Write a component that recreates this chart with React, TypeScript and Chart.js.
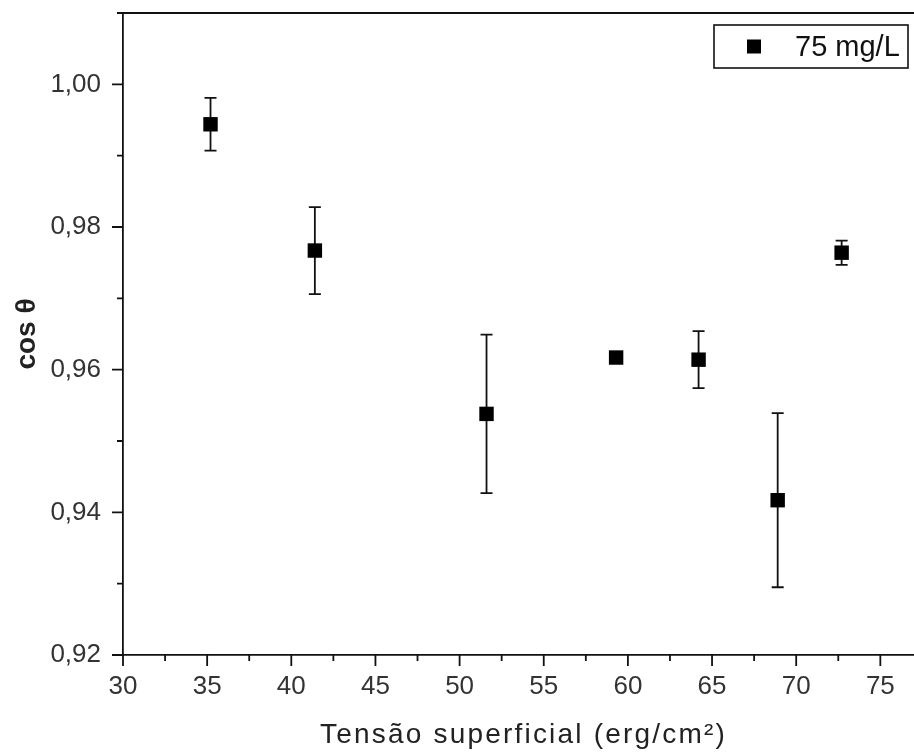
import React, { useEffect, useRef } from "react";
import { Chart, registerables } from "chart.js";

Chart.register(...registerables);

const seriesLabel = "75 mg/L";
const tension = [35.2, 41.4, 51.6, 59.3, 64.2, 68.9, 72.7];
const cosTheta = [0.9944, 0.9767, 0.9538, 0.9617, 0.9614, 0.9417, 0.9764];
const cosErr = [0.0037, 0.0061, 0.0111, 0.0002, 0.004, 0.0122, 0.0017];

const xTitle = "Tensão superficial (erg/cm²)";
const yTitle = "cos θ";

const FONT = "'Liberation Sans', Arial, sans-serif";

const errorBarPlugin = {
  id: "errorBars",
  beforeDatasetsDraw(chart: any) {
    const ctx = chart.ctx;
    const xs = chart.scales.x;
    const ys = chart.scales.y;
    ctx.save();
    ctx.strokeStyle = "#111";
    ctx.lineWidth = 1.8;
    for (let i = 0; i < tension.length; i++) {
      const px = xs.getPixelForValue(tension[i]);
      const top = ys.getPixelForValue(cosTheta[i] + cosErr[i]);
      const bot = ys.getPixelForValue(cosTheta[i] - cosErr[i]);
      ctx.beginPath();
      ctx.moveTo(px, top);
      ctx.lineTo(px, bot);
      ctx.moveTo(px - 6, top);
      ctx.lineTo(px + 6, top);
      ctx.moveTo(px - 6, bot);
      ctx.lineTo(px + 6, bot);
      ctx.stroke();
    }
    ctx.restore();
  },
};

const framePlugin = {
  id: "frame",
  afterDraw(chart: any) {
    const ctx = chart.ctx;
    const area = chart.chartArea;
    const xs = chart.scales.x;
    const ys = chart.scales.y;
    ctx.save();
    ctx.strokeStyle = "#111";
    ctx.lineWidth = 1.8;
    ctx.beginPath();
    // top frame line
    ctx.moveTo(area.left, area.top);
    ctx.lineTo(area.right, area.top);
    // x ticks
    xs.ticks.forEach((t: any, i: number) => {
      const p = xs.getPixelForTick(i);
      const major = Math.abs(t.value % 5) < 1e-6;
      ctx.moveTo(p, area.bottom);
      ctx.lineTo(p, area.bottom + (major ? 11 : 6));
    });
    ys.ticks.forEach((t: any, i: number) => {
      const p = ys.getPixelForTick(i);
      const major = Math.round(t.value * 100) % 2 === 0;
      ctx.moveTo(area.left, p);
      ctx.lineTo(area.left - (major ? 11 : 6), p);
    });
    ctx.stroke();

    // x axis title (Origin-style spaced lettering)
    ctx.font = `28px ${FONT}`;
    ctx.fillStyle = "#222";
    ctx.textAlign = "center";
    ctx.textBaseline = "middle";
    try {
      (ctx as any).letterSpacing = "2.2px";
    } catch (e) {}
    ctx.fillText(xTitle, (area.left + area.right) / 2 + 5, xs.bottom - 17);
    try {
      (ctx as any).letterSpacing = "0px";
    } catch (e) {}

    // legend
    const bw = 194;
    const bh = 43;
    const bx = area.right - 6 - bw;
    const by = area.top + 12;
    ctx.lineWidth = 1.6;
    ctx.strokeRect(bx, by, bw, bh);
    ctx.fillStyle = "#000";
    ctx.fillRect(bx + 40 - 7, by + bh / 2 - 7, 14, 14);
    ctx.font = `29px ${FONT}`;
    ctx.textBaseline = "middle";
    ctx.textAlign = "left";
    ctx.fillStyle = "#111";
    ctx.fillText(seriesLabel, bx + 81, by + bh / 2 + 1);
    ctx.restore();
  },
};

function zeroPad(scale: any) {
  scale.paddingTop = 0;
  scale.paddingBottom = 0;
  scale.paddingLeft = 0;
  scale.paddingRight = 0;
}

export default function App() {
  const ref = useRef<HTMLCanvasElement>(null);
  useEffect(() => {
    if (!ref.current) return;
    const chart = new Chart(ref.current, {
      type: "scatter",
      data: {
        datasets: [
          {
            label: seriesLabel,
            data: tension.map((x, i) => ({ x, y: cosTheta[i] })),
            pointStyle: "rect",
            pointRadius: 10.2,
            pointHoverRadius: 10.2,
            backgroundColor: "#000",
            borderColor: "#000",
            borderWidth: 0,
          },
        ],
      },
      options: {
        responsive: false,
        animation: false,
        layout: { autoPadding: false, padding: { top: 13, right: 0, left: 0, bottom: 0 } },
        plugins: {
          legend: { display: false },
          tooltip: { enabled: false },
        },
        scales: {
          x: {
            type: "linear",
            min: 30,
            max: 77,
            afterFit(scale: any) {
              scale.height = 97;
              zeroPad(scale);
            },
            ticks: {
              stepSize: 2.5,
              includeBounds: false,
              autoSkip: false,
              maxRotation: 0,
              padding: 16,
              color: "#333",
              font: { family: FONT, size: 26 },
              callback: (v: any) => (Math.abs(Number(v) % 5) < 1e-6 ? String(v) : ""),
            },
            grid: { display: true, drawOnChartArea: false, drawTicks: false },
            border: { display: true, color: "#111", width: 1.8 },
            title: { display: false, text: xTitle },
          },
          y: {
            type: "linear",
            min: 0.92,
            max: 1.01,
            afterFit(scale: any) {
              scale.width = 123;
              zeroPad(scale);
            },
            ticks: {
              stepSize: 0.01,
              includeBounds: false,
              autoSkip: false,
              padding: 22,
              color: "#333",
              font: { family: FONT, size: 26 },
              callback: (v: any) =>
                Math.round(Number(v) * 100) % 2 === 0 ? Number(v).toFixed(2).replace(".", ",") : "",
            },
            grid: { display: true, drawOnChartArea: false, drawTicks: false },
            border: { display: true, color: "#111", width: 1.8 },
            title: {
              display: true,
              text: yTitle,
              color: "#222",
              font: { family: FONT, size: 28, weight: "bold" },
              padding: { top: 10, bottom: 0 },
            },
          },
        },
      },
      plugins: [errorBarPlugin, framePlugin],
    });
    return () => chart.destroy();
  }, []);
  return (
    <div style={{ position: "absolute", left: 0, top: 0, width: 914, height: 752, background: "#fff" }}>
      <canvas ref={ref} width={914} height={752} style={{ display: "block" }} />
    </div>
  );
}
